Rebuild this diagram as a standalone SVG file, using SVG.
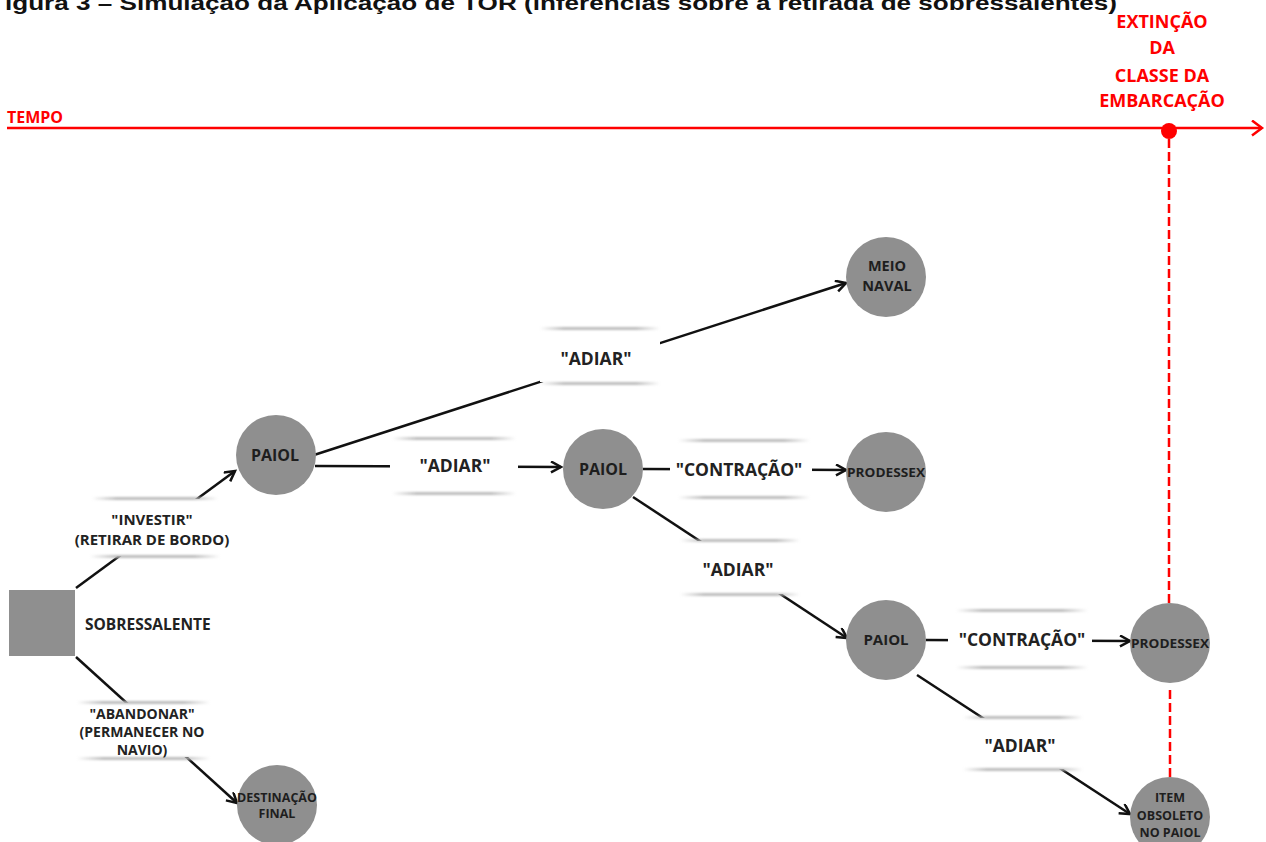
<svg xmlns="http://www.w3.org/2000/svg" width="1266" height="842" viewBox="0 0 1266 842">
<style>
.node{fill:#8f8f8f}
.nt{font-family:"Open Sans","DejaVu Sans",sans-serif;font-weight:700;fill:#1e1e1e;text-anchor:middle}
.lt{font-family:"Open Sans","DejaVu Sans",sans-serif;font-weight:700;fill:#222;text-anchor:middle}
.red{font-family:"Open Sans","DejaVu Sans",sans-serif;font-weight:700;fill:#ff0000;text-anchor:middle}
.con{stroke:#111;stroke-width:2.5;fill:none;marker-end:url(#arr)}
.box{fill:#fff}
.sh{fill:url(#shg);filter:url(#bl)}
</style>
<defs>
<marker id="arr" markerUnits="userSpaceOnUse" markerWidth="14" markerHeight="14" refX="11" refY="6" orient="auto">
<path d="M1,0.5 L11,6 L1,11.5" fill="none" stroke="#111" stroke-width="2.5"/>
</marker>
<marker id="rarr" markerUnits="userSpaceOnUse" markerWidth="14" markerHeight="18" refX="11" refY="8" orient="auto">
<path d="M1,0.5 L11,8 L1,15.5" fill="none" stroke="#ff0000" stroke-width="2.5"/>
</marker>
<linearGradient id="shg" x1="0" x2="1" y1="0" y2="0">
<stop offset="0" stop-color="#bdbdbd" stop-opacity="0"/>
<stop offset="0.2" stop-color="#bdbdbd" stop-opacity="1"/>
<stop offset="0.8" stop-color="#bdbdbd" stop-opacity="1"/>
<stop offset="1" stop-color="#bdbdbd" stop-opacity="0"/>
</linearGradient>
<filter id="bl" x="-10%" y="-200%" width="120%" height="500%"><feGaussianBlur stdDeviation="1"/></filter>
</defs>

<rect width="1266" height="842" fill="#fff"/>

<text x="5" y="10" font-family="Liberation Sans, Arial, sans-serif" font-weight="700" font-size="21" fill="#111" textLength="1112" lengthAdjust="spacingAndGlyphs">igura 3 – Simulação da Aplicação de TOR (inferências sobre a retirada de sobressalentes)</text>

<g id="timeline">
<text x="7" y="123" font-family="Open Sans, DejaVu Sans, sans-serif" font-weight="700" font-size="16" fill="#ff0000">TEMPO</text>
<line x1="7" y1="128" x2="1262" y2="128" stroke="#ff0000" stroke-width="2.5" marker-end="url(#rarr)"/>
<circle cx="1169" cy="131" r="8" fill="#ff0000"/>
<text class="red" font-size="18"><tspan x="1162" y="28">EXTINÇÃO</tspan><tspan x="1162" y="54">DA</tspan><tspan x="1162" y="82">CLASSE DA</tspan><tspan x="1162" y="107">EMBARCAÇÃO</tspan></text>
<line x1="1169" y1="139" x2="1169" y2="603" stroke="#ff0000" stroke-width="2.5" stroke-dasharray="9 4"/>
<line x1="1170" y1="690" x2="1170" y2="777" stroke="#ff0000" stroke-width="2.5" stroke-dasharray="9 4"/>
</g>

<g id="connectors">
<line class="con" x1="76" y1="588" x2="235" y2="471"/>
<line class="con" x1="76" y1="657" x2="237" y2="803"/>
<line class="con" x1="314" y1="455" x2="846" y2="283"/>
<line class="con" x1="315" y1="466" x2="561" y2="467"/>
<line class="con" x1="643" y1="469" x2="846" y2="470"/>
<line class="con" x1="633" y1="497" x2="847" y2="638"/>
<line class="con" x1="926" y1="640" x2="1130" y2="641"/>
<line class="con" x1="917" y1="675" x2="1130" y2="814"/>
</g>

<g id="labels">
<g id="lbl-investir">
<rect class="box" x="88" y="499" width="130" height="57"/>
<rect class="sh" x="92" y="497" width="126" height="3"/>
<rect class="sh" x="90" y="555" width="130" height="3"/>
<text class="lt" font-size="15"><tspan x="152" y="525">"INVESTIR"</tspan><tspan x="152" y="545">(RETIRAR DE BORDO)</tspan></text>
</g>
<g id="lbl-abandonar">
<rect class="box" x="76" y="703" width="134" height="54"/>
<rect class="sh" x="77" y="701" width="133" height="3"/>
<rect class="sh" x="77" y="757" width="133" height="3"/>
<text class="lt" font-size="14"><tspan x="142" y="719">"ABANDONAR"</tspan><tspan x="142" y="737">(PERMANECER NO</tspan><tspan x="142" y="755">NAVIO)</tspan></text>
</g>
<g id="lbl-adiar1">
<rect class="box" x="540" y="329" width="120" height="53"/>
<rect class="sh" x="540" y="327" width="120" height="3"/>
<rect class="sh" x="540" y="382" width="120" height="3"/>
<text class="lt" font-size="17.5" x="596" y="365">"ADIAR"</text>
</g>
<g id="lbl-adiar2">
<rect class="box" x="390" y="439" width="128" height="54"/>
<rect class="sh" x="392" y="437" width="124" height="3"/>
<rect class="sh" x="392" y="492" width="124" height="3"/>
<text class="lt" font-size="17.5" x="455" y="472">"ADIAR"</text>
</g>
<g id="lbl-contracao1">
<rect class="box" x="670" y="441" width="142" height="56"/>
<rect class="sh" x="678" y="439" width="132" height="3"/>
<rect class="sh" x="678" y="496" width="132" height="3"/>
<text class="lt" font-size="17.5" x="739" y="476">"CONTRAÇÃO"</text>
</g>
<g id="lbl-adiar3">
<rect class="box" x="680" y="541" width="122" height="53"/>
<rect class="sh" x="680" y="539" width="120" height="3"/>
<rect class="sh" x="680" y="593" width="120" height="3"/>
<text class="lt" font-size="17.5" x="738" y="576">"ADIAR"</text>
</g>
<g id="lbl-contracao2">
<rect class="box" x="948" y="611" width="144" height="56"/>
<rect class="sh" x="956" y="609" width="132" height="3"/>
<rect class="sh" x="956" y="666" width="132" height="3"/>
<text class="lt" font-size="17.5" x="1022" y="646">"CONTRAÇÃO"</text>
</g>
<g id="lbl-adiar4">
<rect class="box" x="963" y="718" width="122" height="51"/>
<rect class="sh" x="963" y="716" width="120" height="3"/>
<rect class="sh" x="963" y="768" width="120" height="3"/>
<text class="lt" font-size="17.5" x="1020" y="752">"ADIAR"</text>
</g>
</g>

<g id="sobressalente">
<rect class="node" x="9" y="590" width="66" height="66"/>
<text x="85" y="630" font-family="Open Sans, DejaVu Sans, sans-serif" font-weight="700" font-size="15.5" fill="#222">SOBRESSALENTE</text>
</g>
<g id="paiol1">
<circle class="node" cx="276" cy="455" r="40"/>
<text class="nt" font-size="16" x="275" y="461">PAIOL</text>
</g>
<g id="meio-naval">
<circle class="node" cx="886" cy="277" r="40"/>
<text class="nt" font-size="14.5"><tspan x="887" y="271">MEIO</tspan><tspan x="887" y="291">NAVAL</tspan></text>
</g>
<g id="paiol2">
<circle class="node" cx="603" cy="469" r="40"/>
<text class="nt" font-size="16" x="603" y="475">PAIOL</text>
</g>
<g id="prodessex1">
<circle class="node" cx="886" cy="472" r="40"/>
<text class="nt" font-size="13" x="886" y="477" textLength="78" lengthAdjust="spacingAndGlyphs">PRODESSEX</text>
</g>
<g id="paiol3">
<circle class="node" cx="886" cy="640" r="40"/>
<text class="nt" font-size="15" x="886" y="645">PAIOL</text>
</g>
<g id="prodessex2">
<circle class="node" cx="1170" cy="643" r="40"/>
<text class="nt" font-size="13" x="1170" y="648" textLength="78" lengthAdjust="spacingAndGlyphs">PRODESSEX</text>
</g>
<g id="destinacao">
<circle class="node" cx="277" cy="805" r="40"/>
<text class="nt" font-size="12.5"><tspan x="277" y="802">DESTINAÇÃO</tspan><tspan x="277" y="818">FINAL</tspan></text>
</g>
<g id="item-obsoleto">
<circle class="node" cx="1170" cy="817" r="40"/>
<text class="nt" font-size="12.5"><tspan x="1170" y="802">ITEM</tspan><tspan x="1170" y="820">OBSOLETO</tspan><tspan x="1170" y="837">NO PAIOL</tspan></text>
</g>
</svg>
